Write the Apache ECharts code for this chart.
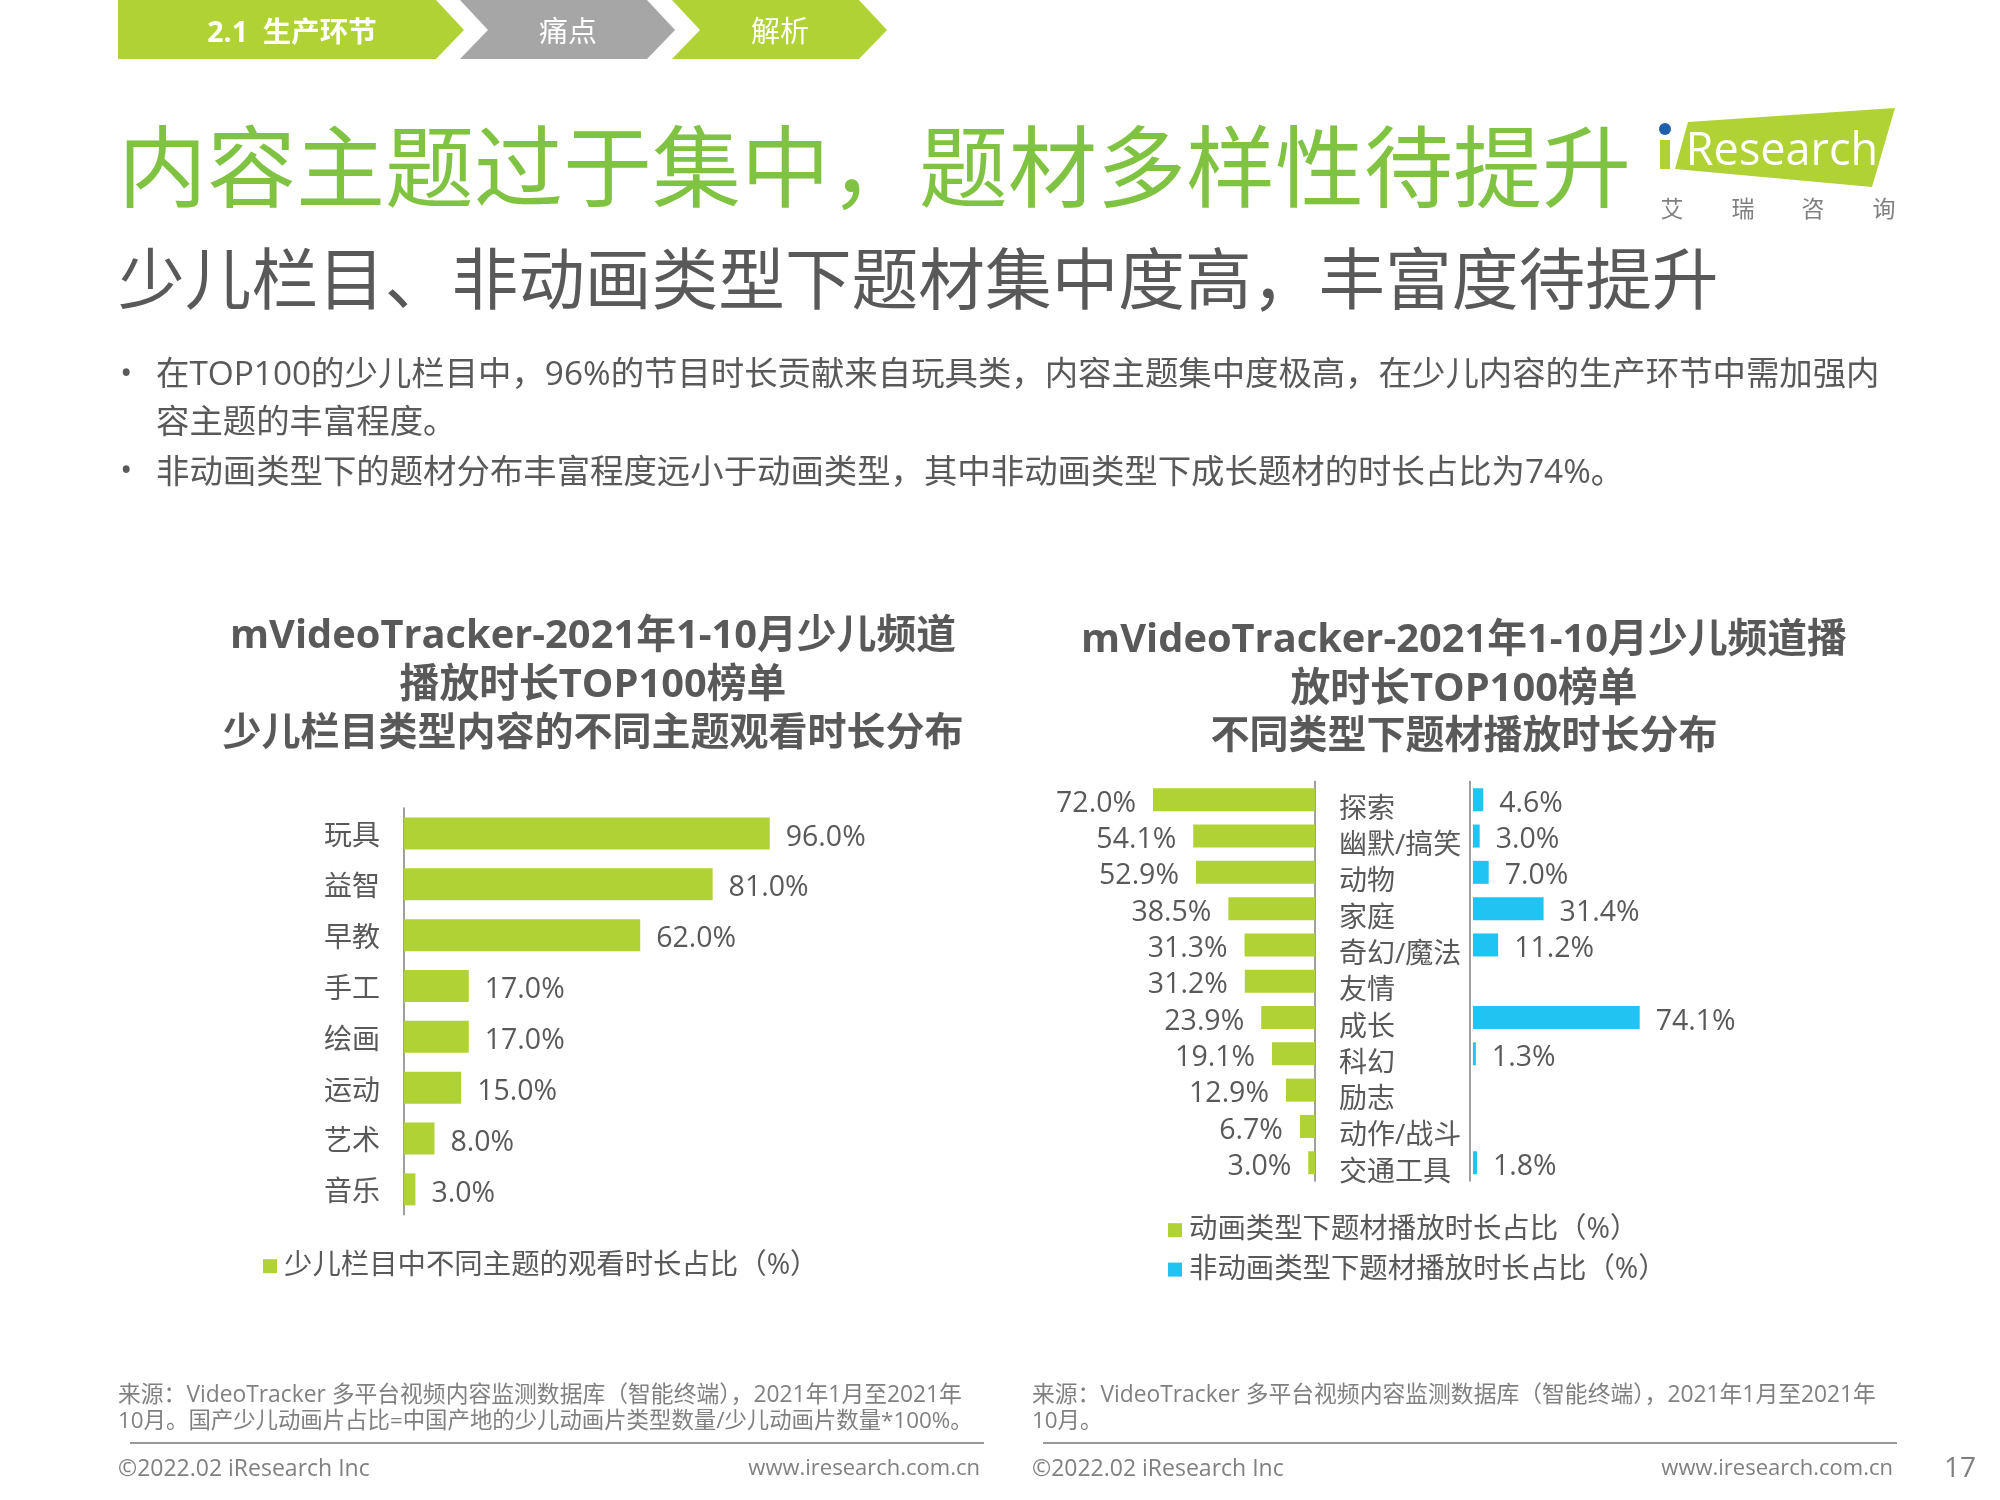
<!DOCTYPE html>
<html>
<head>
<meta charset="utf-8">
<title>内容主题过于集中</title>
<script src="https://cdn.jsdelivr.net/npm/echarts@6/dist/echarts.min.js"></script>
<style>
  html, body { margin: 0; padding: 0; background: #fff; }
  #main { width: 2000px; height: 1500px; }
</style>
</head>
<body>
<div id="main"></div>
<script>
// 少儿栏目主题
const themeCategories = ['玩具', '益智', '早教', '手工', '绘画', '运动', '艺术', '音乐'];
const themeValues = [96.0, 81.0, 62.0, 17.0, 17.0, 15.0, 8.0, 3.0];
const themeSeriesName = '少儿栏目中不同主题的观看时长占比（%）';

// 动画 / 非动画题材
const genreCategories = ['探索', '幽默/搞笑', '动物', '家庭', '奇幻/魔法', '友情', '成长', '科幻', '励志', '动作/战斗', '交通工具'];
const animationValues = [72.0, 54.1, 52.9, 38.5, 31.3, 31.2, 23.9, 19.1, 12.9, 6.7, 3.0];
const nonAnimationValues = [4.6, 3.0, 7.0, 31.4, 11.2, null, 74.1, 1.3, null, null, 1.8];
const animationName = '动画类型下题材播放时长占比（%）';
const nonAnimationName = '非动画类型下题材播放时长占比（%）';

const pageTitle = '内容主题过于集中，题材多样性待提升';
const pageSubtitle = '少儿栏目、非动画类型下题材集中度高，丰富度待提升';
const bodyLines = [
  '在TOP100的少儿栏目中，96%的节目时长贡献来自玩具类，内容主题集中度极高，在少儿内容的生产环节中需加强内',
  '容主题的丰富程度。',
  '非动画类型下的题材分布丰富程度远小于动画类型，其中非动画类型下成长题材的时长占比为74%。'
];
const leftTitle = ['mVideoTracker-2021年1-10月少儿频道', '播放时长TOP100榜单', '少儿栏目类型内容的不同主题观看时长分布'];
const rightTitle = ['mVideoTracker-2021年1-10月少儿频道播', '放时长TOP100榜单', '不同类型下题材播放时长分布'];
const leftSource = ['来源：VideoTracker 多平台视频内容监测数据库（智能终端），2021年1月至2021年', '10月。国产少儿动画片占比=中国产地的少儿动画片类型数量/少儿动画片数量*100%。'];
const rightSource = ['来源：VideoTracker 多平台视频内容监测数据库（智能终端），2021年1月至2021年', '10月。'];

const FONT = '"Open Sans","Noto Sans CJK SC",sans-serif';
const LIME = '#B0D234';
const BLUE = '#1FC4F2';
const GREEN = '#80C342';
const GRAY = '#595959';
const SOFT = '#808080';

function text(str, x, y, size, fill, align, weight) {
  return {
    type: 'text',
    silent: true,
    style: {
      text: str, x: x, y: y, fill: fill,
      font: (weight || 'normal') + ' ' + size + 'px ' + FONT,
      textAlign: align || 'left',
      textVerticalAlign: 'middle'
    }
  };
}

function poly(points, fill) {
  return { type: 'polygon', silent: true, shape: { points: points }, style: { fill: fill } };
}

function rule(x1, x2, y) {
  return { type: 'line', silent: true, shape: { x1: x1, y1: y, x2: x2, y2: y }, style: { stroke: '#999999', lineWidth: 2 } };
}

const graphics = [
  poly([[118, 0], [436, 0], [464, 30], [436, 59], [118, 59]], LIME),
  poly([[460, 0], [647, 0], [675, 30], [647, 59], [460, 59], [488, 30]], '#A6A6A6'),
  poly([[672, 0], [859, 0], [887, 30], [859, 59], [672, 59], [700, 30]], LIME),
  text('2.1  生产环节', 292, 34, 28.5, '#fff', 'center', 'bold'),
  text('痛点', 568, 34, 29, '#fff', 'center'),
  text('解析', 780, 34, 29, '#fff', 'center'),

  text(pageTitle, 118, 175, 89, GREEN),
  text(pageSubtitle, 118, 285, 66.7, GRAY),

  text('•', 120, 375, 33, GRAY),
  text(bodyLines[0], 156, 375, 33.4, GRAY),
  text(bodyLines[1], 156, 423, 33.4, GRAY),
  text('•', 120, 472, 33, GRAY),
  text(bodyLines[2], 156, 473, 33.4, GRAY),

  // logo
  poly([[1688, 122], [1895, 108], [1872, 187], [1675, 169]], LIME),
  { type: 'rect', silent: true, shape: { x: 1660, y: 140, width: 10, height: 29 }, style: { fill: LIME } },
  { type: 'circle', silent: true, shape: { cx: 1665, cy: 129, r: 6 }, style: { fill: '#1F5FA8' } },
  text('Research', 1782, 152, 45, '#fff', 'center'),
  text('艾', 1672, 210, 23, SOFT, 'center'),
  text('瑞', 1743, 210, 23, SOFT, 'center'),
  text('咨', 1813, 210, 23, SOFT, 'center'),
  text('询', 1884, 210, 23, SOFT, 'center'),

  rule(130, 984, 1443),
  rule(1043, 1897, 1443),
  text(leftSource[0], 118, 1396, 22.8, SOFT),
  text(leftSource[1], 118, 1422, 22.4, SOFT),
  text(rightSource[0], 1032, 1396, 22.8, SOFT),
  text(rightSource[1], 1032, 1422, 22.4, SOFT),
  text('©2022.02 iResearch Inc', 118, 1469, 23, SOFT),
  text('www.iresearch.com.cn', 980, 1469, 22, SOFT, 'right'),
  text('©2022.02 iResearch Inc', 1032, 1469, 23, SOFT),
  text('www.iresearch.com.cn', 1893, 1469, 22, SOFT, 'right'),
  text('17', 1960, 1469, 28, SOFT, 'center')
];

// 每行字号略有不同，拉丁字符比例和原图字体不一样
const titleSizes = [39.8, 39.8, 39];
[637, 686, 734].forEach((y, i) => graphics.push(text(leftTitle[i], 593, y, titleSizes[i], GRAY, 'center', 'bold')));
[641, 690, 737].forEach((y, i) => graphics.push(text(rightTitle[i], 1464, y, titleSizes[i], GRAY, 'center', 'bold')));

const axisLine = { show: true, onZero: false, lineStyle: { color: '#7f7f7f', width: 1.5 } };
const pct = p => p.value.toFixed(1) + '%';
const barLabel = (pos, dist) => ({
  show: true, position: pos, distance: dist, offset: [0, 4], formatter: pct,
  color: GRAY, fontSize: 28.5, fontFamily: FONT
});

const option = {
  animation: false,
  backgroundColor: '#fff',
  textStyle: { fontFamily: FONT },
  graphic: { elements: graphics },
  legend: [
    {
      data: [themeSeriesName], left: 258, top: 1247, icon: 'rect',
      itemWidth: 14, itemHeight: 14, itemGap: 10, selectedMode: false,
      textStyle: { color: GRAY, fontSize: 28.4, fontFamily: FONT, padding: [0, 0, 0, 2] }
    },
    {
      data: [animationName, nonAnimationName], left: 1163, top: 1211, orient: 'vertical', icon: 'rect',
      itemWidth: 14, itemHeight: 14, itemGap: 11, selectedMode: false,
      textStyle: { color: GRAY, fontSize: 28.4, fontFamily: FONT, padding: [0, 0, 0, 2] }
    }
  ],
  grid: [
    { left: 404, top: 808, width: 381, height: 406.8 },
    { left: 1090, top: 781.6, width: 225, height: 399.3 },
    { left: 1470, top: 781.6, width: 228, height: 399.3 }
  ],
  xAxis: [
    { gridIndex: 0, type: 'value', min: 0, max: 100, show: false },
    { gridIndex: 1, type: 'value', min: 0, max: 100, inverse: true, show: false },
    { gridIndex: 2, type: 'value', min: -1.3, max: 100, show: false }
  ],
  yAxis: [
    {
      gridIndex: 0, type: 'category', data: themeCategories, inverse: true,
      axisLine: axisLine, axisTick: { show: false },
      axisLabel: {
        interval: 0, color: GRAY, fontSize: 28, margin: 24, fontFamily: FONT,
        verticalAlign: 'top', lineHeight: 8
      }
    },
    {
      gridIndex: 1, type: 'category', data: genreCategories, inverse: true, position: 'right',
      axisLine: axisLine, axisTick: { show: false },
      // 题材名比柱子略低
      axisLabel: {
        interval: 0, color: GRAY, fontSize: 28, margin: 24, align: 'left', fontFamily: FONT,
        verticalAlign: 'top', lineHeight: 20
      }
    },
    {
      gridIndex: 2, type: 'category', data: genreCategories, inverse: true,
      axisLine: axisLine, axisTick: { show: false }, axisLabel: { show: false }
    }
  ],
  series: [
    {
      name: themeSeriesName, type: 'bar', xAxisIndex: 0, yAxisIndex: 0, data: themeValues,
      barWidth: 32, itemStyle: { color: LIME }, label: barLabel('right', 16)
    },
    {
      name: animationName, type: 'bar', xAxisIndex: 1, yAxisIndex: 1, data: animationValues,
      barWidth: 23, itemStyle: { color: LIME }, label: barLabel('left', 17)
    },
    {
      name: nonAnimationName, type: 'bar', xAxisIndex: 2, yAxisIndex: 2, data: nonAnimationValues,
      barWidth: 23, itemStyle: { color: BLUE }, label: barLabel('right', 16)
    }
  ]
};

const chart = echarts.init(document.getElementById('main'));
chart.setOption(option);
window.addEventListener('resize', chart.resize);
</script>
</body>
</html>
